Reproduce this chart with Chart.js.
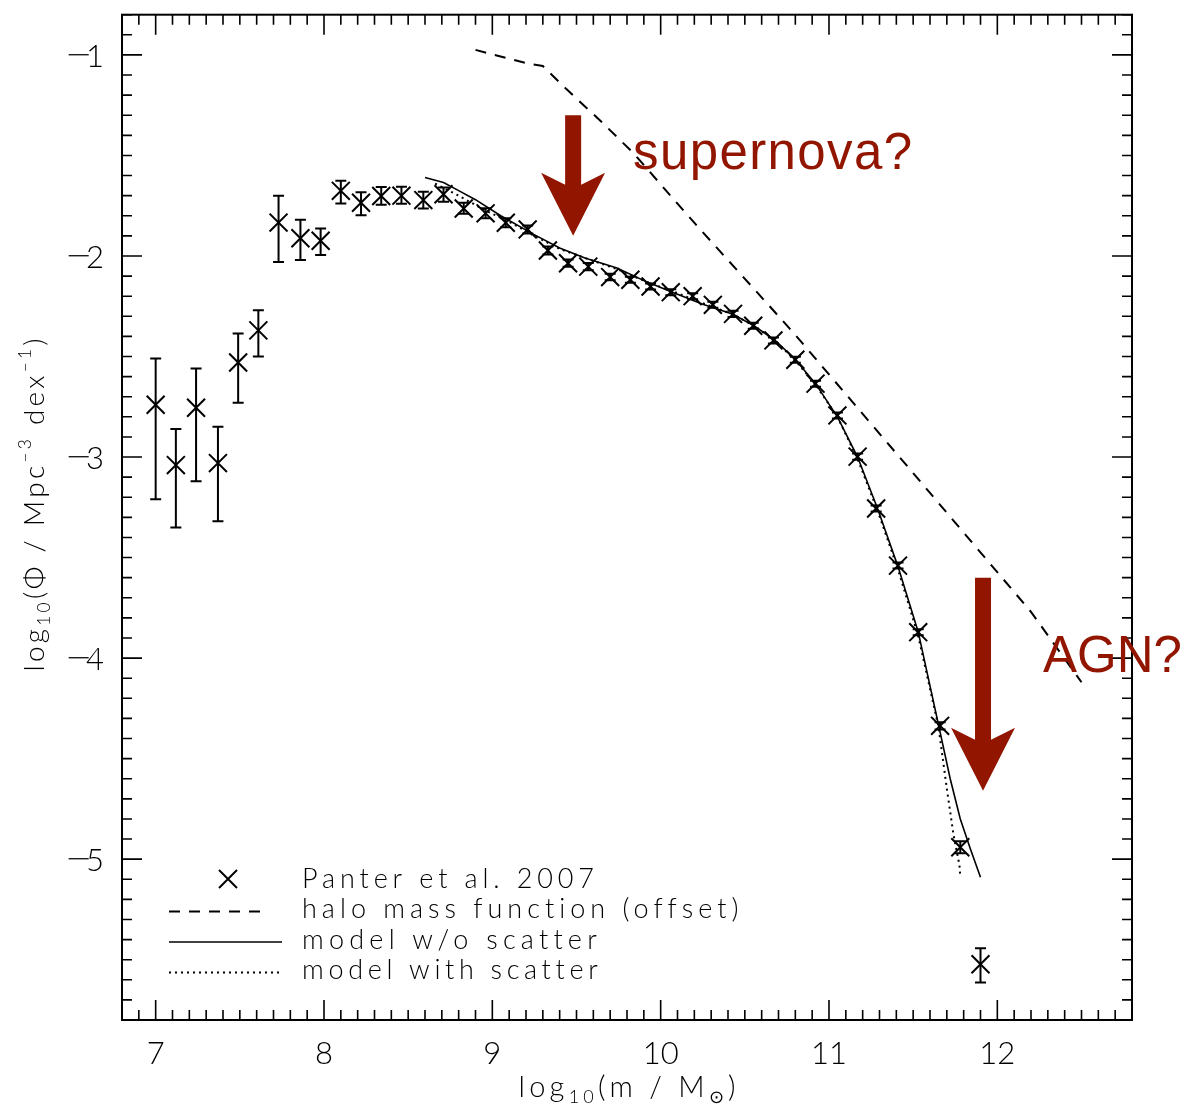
<!DOCTYPE html>
<html>
<head>
<meta charset="utf-8">
<title>Stellar mass function</title>
<script src="https://cdn.jsdelivr.net/npm/chart.js@4"></script>
<style>
  html, body { margin: 0; padding: 0; background: #fff; }
  canvas { display: block; }
</style>
</head>
<body>
<canvas id="grafico" width="1199" height="1114"></canvas>
<script>
// Panter et al. 2007: log10 mass, log10 phi, error bar lengths (up / down)
const panterMass = [7.00, 7.12, 7.24, 7.37, 7.49, 7.61, 7.73, 7.86, 7.98, 8.10,
  8.22, 8.34, 8.46, 8.59, 8.71, 8.83, 8.96, 9.08, 9.21, 9.33,
  9.45, 9.57, 9.70, 9.82, 9.94, 10.06, 10.19, 10.31, 10.43, 10.55,
  10.67, 10.80, 10.92, 11.05, 11.17, 11.28, 11.41, 11.53, 11.66, 11.78, 11.90];
const panterPhi = [-2.74, -3.04, -2.755, -3.03, -2.53, -2.37, -1.834, -1.912, -1.924, -1.676,
  -1.735, -1.702, -1.70, -1.722, -1.693, -1.764, -1.788, -1.835, -1.868, -1.973,
  -2.036, -2.053, -2.105, -2.118, -2.152, -2.18, -2.20, -2.243, -2.288, -2.347,
  -2.42, -2.516, -2.635, -2.793, -2.998, -3.256, -3.54, -3.871, -4.337, -4.941, -5.523];
const panterErrUp = [0.23, 0.18, 0.195, 0.18, 0.145, 0.10, 0.134, 0.092, 0.061, 0.05,
  0.052, 0.045, 0.044, 0.042, 0.033, 0.029, 0.025, 0.022, 0.02, 0.02,
  0.018, 0.018, 0.016, 0.015, 0.015, 0.015, 0.015, 0.015, 0.015, 0.015,
  0.015, 0.015, 0.015, 0.015, 0.015, 0.015, 0.015, 0.015, 0.018, 0.03, 0.08];
const panterErrDown = [0.47, 0.31, 0.365, 0.29, 0.20, 0.13, 0.196, 0.108, 0.071, 0.063,
  0.062, 0.043, 0.04, 0.042, 0.037, 0.026, 0.025, 0.022, 0.02, 0.02,
  0.018, 0.018, 0.016, 0.015, 0.015, 0.015, 0.015, 0.015, 0.015, 0.015,
  0.015, 0.015, 0.015, 0.015, 0.015, 0.015, 0.015, 0.015, 0.018, 0.03, 0.09];

// halo mass function (offset)
const haloMass = [8.90, 9.22, 9.30, 9.44, 9.64, 9.84, 10.10, 10.23, 10.63, 10.79, 11.50, 12.20, 12.50];
const haloPhi = [-0.975, -1.045, -1.055, -1.17, -1.326, -1.49, -1.74, -1.863, -2.234, -2.383, -3.08, -3.77, -4.12];

// model without scatter
const modelMass = [8.60, 8.71, 8.80, 8.90, 9.05, 9.24, 9.40, 9.55, 9.74, 9.92,
  10.10, 10.25, 10.43, 10.56, 10.68, 10.80, 10.92, 11.05, 11.17, 11.29,
  11.41, 11.53, 11.65, 11.72, 11.78, 11.84, 11.90];
const modelPhi = [-1.61, -1.635, -1.675, -1.72, -1.80, -1.89, -1.96, -2.01, -2.06, -2.13,
  -2.19, -2.24, -2.29, -2.35, -2.42, -2.515, -2.635, -2.80, -3.00, -3.26,
  -3.545, -3.87, -4.33, -4.60, -4.80, -4.95, -5.09];

// model with scatter
const scatterMass = [8.66, 8.80, 8.95, 9.10, 9.25, 9.40, 9.55, 9.74, 9.92, 10.10,
  10.25, 10.43, 10.56, 10.68, 10.80, 10.92, 11.05, 11.17, 11.29, 11.41,
  11.53, 11.65, 11.70, 11.74, 11.775, 11.78];
const scatterPhi = [-1.64, -1.70, -1.77, -1.83, -1.90, -1.965, -2.01, -2.065, -2.13, -2.185,
  -2.235, -2.29, -2.35, -2.42, -2.52, -2.64, -2.80, -3.01, -3.27, -3.56,
  -3.89, -4.34, -4.65, -4.88, -5.03, -5.09];

const xTicks = [7, 8, 9, 10, 11, 12];
const yTicks = [-1, -2, -3, -4, -5];
const legendLabels = ['Panter et al. 2007', 'halo mass function (offset)', 'model w/o scatter', 'model with scatter'];

const FONT = '"Lato", "DejaVu Sans", sans-serif';
const RED = '#921500';

const pairs = (xs, ys) => xs.map((x, i) => ({ x: x, y: ys[i] }));

// draws text starting at x, stretched with letter spacing to a given width
function fitText(ctx, text, x, y, width) {
  ctx.letterSpacing = '0px';
  const natural = ctx.measureText(text).width;
  const sp = Math.max(0, (width - natural) / Math.max(1, text.length - 1));
  ctx.letterSpacing = sp + 'px';
  ctx.fillText(text, x, y);
  ctx.letterSpacing = '0px';
}

// text with sub/superscripts: parts = [[text, -1 sub | 0 | 1 sup], ...]
function richText(ctx, parts, cx, y, size, width) {
  const small = size * 0.62;
  let natural = 0, chars = 0;
  parts.forEach(([t, k]) => {
    ctx.font = `300 ${k ? small : size}px ${FONT}`;
    natural += ctx.measureText(t).width;
    chars += t.length;
  });
  const sp = Math.max(0, (width - natural) / Math.max(1, chars - 1));
  let x = cx - width / 2;
  ctx.textAlign = 'left';
  ctx.textBaseline = 'alphabetic';
  parts.forEach(([t, k]) => {
    ctx.font = `300 ${k ? small : size}px ${FONT}`;
    ctx.letterSpacing = sp + 'px';
    const dy = k < 0 ? size * 0.22 : (k > 0 ? -size * 0.45 : 0);
    ctx.fillText(t, x, y + dy);
    x += ctx.measureText(t).width;
  });
  ctx.letterSpacing = '0px';
}

function arrow(ctx, cx, top, tip) {
  ctx.beginPath();
  ctx.moveTo(cx - 8, top);
  ctx.lineTo(cx + 8, top);
  ctx.lineTo(cx + 8, tip - 51);
  ctx.lineTo(cx + 32, tip - 63);
  ctx.lineTo(cx, tip);
  ctx.lineTo(cx - 32, tip - 63);
  ctx.lineTo(cx - 8, tip - 51);
  ctx.closePath();
  ctx.fillStyle = RED;
  ctx.fill();
}

// error bars with caps
const errorBars = {
  id: 'errorBars',
  afterDatasetsDraw(chart) {
    const { ctx, scales: { x, y } } = chart;
    ctx.save();
    ctx.strokeStyle = '#000';
    ctx.lineWidth = 2;
    panterMass.forEach((m, i) => {
      const px = x.getPixelForValue(m);
      const y1 = y.getPixelForValue(panterPhi[i] + panterErrUp[i]);
      const y2 = y.getPixelForValue(panterPhi[i] - panterErrDown[i]);
      ctx.beginPath();
      ctx.moveTo(px, y1); ctx.lineTo(px, y2);
      ctx.moveTo(px - 5.5, y1); ctx.lineTo(px + 5.5, y1);
      ctx.moveTo(px - 5.5, y2); ctx.lineTo(px + 5.5, y2);
      ctx.stroke();
    });
    ctx.restore();
  }
};

// box, inward ticks, labels, legend and annotations
const frame = {
  id: 'frame',
  afterDraw(chart) {
    const { ctx, chartArea: a, scales: { x, y } } = chart;
    ctx.save();
    ctx.strokeStyle = '#000';
    ctx.lineWidth = 2;
    ctx.strokeRect(a.left, a.top, a.right - a.left, a.bottom - a.top);

    ctx.beginPath();
    for (let i = 68; i <= 128; i++) {
      const px = x.getPixelForValue(i / 10);
      const len = i % 10 === 0 ? 20 : 10;
      ctx.moveTo(px, a.bottom); ctx.lineTo(px, a.bottom - len);
      ctx.moveTo(px, a.top); ctx.lineTo(px, a.top + len);
    }
    for (let i = -58; i <= -8; i++) {
      const py = y.getPixelForValue(i / 10);
      const len = i % 10 === 0 ? 20 : 10;
      ctx.moveTo(a.left, py); ctx.lineTo(a.left + len, py);
      ctx.moveTo(a.right, py); ctx.lineTo(a.right - len, py);
    }
    ctx.lineWidth = 1.6;
    ctx.stroke();

    // tick labels
    ctx.fillStyle = '#000';
    ctx.font = `300 31px ${FONT}`;
    ctx.textBaseline = 'middle';
    ctx.textAlign = 'center';
    xTicks.forEach(v => ctx.fillText(String(v), x.getPixelForValue(v), 1054));
    yTicks.forEach(v => {
      const py = y.getPixelForValue(v) + 2;
      ctx.textAlign = 'right';
      ctx.font = `300 31px ${FONT}`;
      ctx.fillText(String(Math.abs(v)), 104, py);
      ctx.textAlign = 'center';
      ctx.font = `200 32px "DejaVu Sans", sans-serif`;
      ctx.fillText('\u2212', 79, py);
    });

    // axis titles
    richText(ctx, [['log', 0], ['10', -1], ['(m / M', 0], ['\u2299', -1], [')', 0]], 627, 1097, 29, 217);
    ctx.save();
    ctx.translate(44, 505);
    ctx.rotate(-Math.PI / 2);
    richText(ctx, [['log', 0], ['10', -1], ['(\u03A6 / Mpc', 0], ['\u22123', 1], [' dex', 0], ['\u22121', 1], [')', 0]], 0, 0, 28, 333);
    ctx.restore();

    // legend
    ctx.font = `300 27px ${FONT}`;
    ctx.textAlign = 'left';
    ctx.textBaseline = 'middle';
    const rows = [879, 909.5, 940, 970.5];
    const widths = [292, 436, 294, 295];
    legendLabels.forEach((t, i) => fitText(ctx, t, 302, rows[i], widths[i]));
    ctx.lineWidth = 2;
    ctx.beginPath();
    ctx.moveTo(219, rows[0] - 9); ctx.lineTo(237, rows[0] + 9);
    ctx.moveTo(237, rows[0] - 9); ctx.lineTo(219, rows[0] + 9);
    ctx.stroke();
    const styles = [[11, 9], [], [2, 4]];
    const ends = [262, 282, 281];
    styles.forEach((d, i) => {
      ctx.setLineDash(d);
      ctx.lineWidth = i === 1 ? 1.6 : 2;
      ctx.beginPath();
      ctx.moveTo(169, rows[i + 1] + 2);
      ctx.lineTo(ends[i], rows[i + 1] + 2);
      ctx.stroke();
    });
    ctx.setLineDash([]);

    // annotations
    arrow(ctx, x.getPixelForValue(9.48), y.getPixelForValue(-1.30), y.getPixelForValue(-1.90));
    arrow(ctx, x.getPixelForValue(11.915), y.getPixelForValue(-3.60), y.getPixelForValue(-4.66));
    ctx.fillStyle = RED;
    ctx.font = `51px "Liberation Sans", Arial, sans-serif`;
    ctx.textAlign = 'left';
    ctx.textBaseline = 'alphabetic';
    fitText(ctx, 'supernova?', 633, 169, 279);
    ctx.fillText('AGN?', 1043, 672);
    ctx.restore();
  }
};

const ctx = document.getElementById('grafico').getContext('2d');
const myChart = new Chart(ctx, {
  type: 'scatter',
  data: {
    datasets: [
      {
        label: legendLabels[0],
        data: pairs(panterMass, panterPhi),
        showLine: false,
        pointStyle: 'crossRot',
        pointRadius: 12.7,
        pointBorderWidth: 2,
        borderColor: '#000',
        backgroundColor: '#000'
      },
      {
        label: legendLabels[1],
        data: pairs(haloMass, haloPhi),
        showLine: true,
        pointRadius: 0,
        borderColor: '#000',
        borderWidth: 2,
        borderDash: [11, 9]
      },
      {
        label: legendLabels[2],
        data: pairs(modelMass, modelPhi),
        showLine: true,
        pointRadius: 0,
        borderColor: '#000',
        borderWidth: 1.6
      },
      {
        label: legendLabels[3],
        data: pairs(scatterMass, scatterPhi),
        showLine: true,
        pointRadius: 0,
        borderColor: '#000',
        borderWidth: 2,
        borderDash: [2, 4]
      }
    ]
  },
  options: {
    responsive: false,
    animation: false,
    layout: { padding: { left: 122, top: 11, right: 67, bottom: 94 } },
    scales: {
      x: { type: 'linear', min: 6.8, max: 12.8, display: false },
      y: { type: 'linear', min: -5.8, max: -0.8, display: false }
    },
    plugins: {
      legend: { display: false },
      tooltip: { enabled: false }
    }
  },
  plugins: [errorBars, frame]
});
</script>
</body>
</html>
